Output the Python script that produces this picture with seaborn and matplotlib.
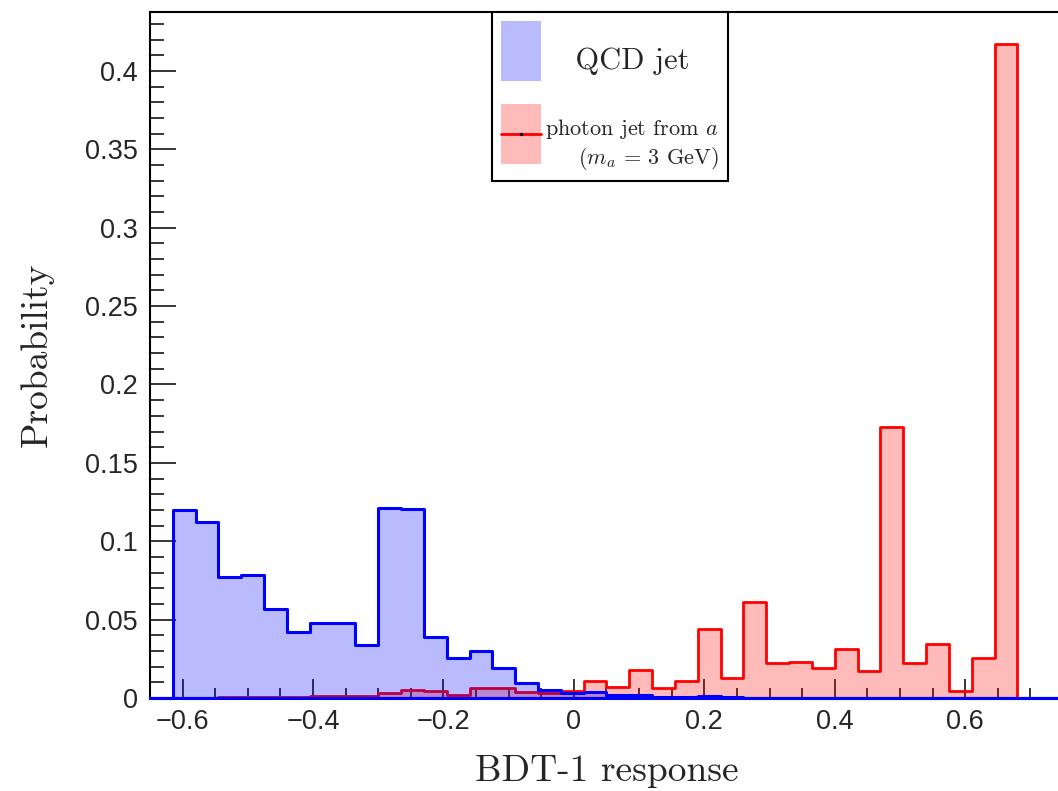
import numpy as np
import pandas as pd
import matplotlib
matplotlib.use("Agg")
import matplotlib.pyplot as plt
import seaborn as sns
from matplotlib.patches import Patch
from matplotlib.lines import Line2D
from matplotlib.legend_handler import HandlerLine2D
from matplotlib.ticker import MultipleLocator, FuncFormatter

# ---------------- data (probability per bin, 40 bins from -0.65 to 0.75) ----------------
bin_range = (-0.65, 0.75)
n_bins = 40

qcd_prob = [0.0, 0.120, 0.112, 0.077, 0.0785, 0.0566, 0.0421, 0.0476, 0.048, 0.034,
            0.121, 0.1205, 0.0387, 0.0255, 0.0302, 0.0191, 0.0094, 0.0051, 0.003, 0.0036,
            0.0017, 0.002, 0.0005, 0.0005, 0.0013, 0.0004, 0.0003, 0.0, 0.0, 0.0,
            0.0, 0.0, 0.0, 0.0, 0.0, 0.0, 0.0, 0.0, 0.0, 0.0]

photon_prob = [0.0, 0.0, 0.0003, 0.0005, 0.0008, 0.0008, 0.0008, 0.001, 0.0013, 0.0014,
               0.0034, 0.005, 0.0043, 0.0021, 0.0062, 0.0062, 0.004, 0.003, 0.0045, 0.011,
               0.0072, 0.0179, 0.0064, 0.0106, 0.0438, 0.013, 0.0615, 0.0221, 0.0228, 0.0194,
               0.031, 0.0172, 0.173, 0.0221, 0.0342, 0.0047, 0.0253, 0.417, 0.0, 0.0]

x_ticks = [-0.6, -0.4, -0.2, 0, 0.2, 0.4, 0.6]
y_ticks = [0, 0.05, 0.1, 0.15, 0.2, 0.25, 0.3, 0.35, 0.4]

qcd_label = "   QCD jet"
photon_label = "photon jet from $a$\n($m_a$ = 3 GeV)"
x_label = "BDT-1 response"
y_label = "Probability"

# ---------------- styling ----------------
sns.set_style("ticks")
plt.rcParams["font.family"] = ["Liberation Sans", "DejaVu Sans"]
plt.rcParams["mathtext.fontset"] = "cm"

blue_line = (0.0, 0.0, 1.0)
blue_fill = (0.0, 0.0, 1.0, 0.27)
red_line = (1.0, 0.0, 0.0)
red_fill = (1.0, 0.0, 0.0, 0.27)

edges = np.linspace(bin_range[0], bin_range[1], n_bins + 1)
centers = 0.5 * (edges[:-1] + edges[1:])
df = pd.DataFrame({"response": centers, "qcd": qcd_prob, "photon": photon_prob})

fig = plt.figure(figsize=(10.58, 7.91), dpi=100)
ax = fig.add_axes([150 / 1058, 93 / 791, 913 / 1058, 686 / 791])

sns.histplot(data=df, x="response", weights="photon", bins=n_bins, binrange=bin_range,
             element="step", fill=True, facecolor=red_fill, edgecolor=red_line,
             linewidth=2.0, ax=ax)
sns.histplot(data=df, x="response", weights="qcd", bins=n_bins, binrange=bin_range,
             element="step", fill=True, facecolor=blue_fill, edgecolor=blue_line,
             linewidth=2.2, ax=ax)
for i, coll in enumerate(ax.collections):
    coll.set_zorder(2.6 + 0.01 * i)
    coll.set_clip_on(False)

ax.set_xlim(-0.65, 0.75)
ax.set_ylim(0, 0.4376)

ax.xaxis.set_major_locator(MultipleLocator(0.2))
ax.xaxis.set_minor_locator(MultipleLocator(0.05))
ax.yaxis.set_major_locator(MultipleLocator(0.05))
ax.yaxis.set_minor_locator(MultipleLocator(0.01))
fmt = FuncFormatter(lambda v, p: ("%g" % round(v, 4)).replace("-", "\u2212"))
ax.xaxis.set_major_formatter(fmt)
ax.yaxis.set_major_formatter(fmt)

ax.tick_params(axis="both", which="both", direction="in", top=False, right=False,
               color="black", width=1.1)
ax.tick_params(axis="x", which="major", length=14, pad=8, labelsize=19.5)
ax.tick_params(axis="x", which="minor", length=7)
ax.tick_params(axis="y", which="major", length=19, pad=9, labelsize=19.5)
ax.tick_params(axis="y", which="minor", length=10)

for s in ax.spines.values():
    s.set_color("black")
    s.set_linewidth(1.5)
ax.spines["right"].set_visible(False)

ax.set_xlabel(x_label, fontfamily="cmr10", fontsize=27, labelpad=14)
ax.set_ylabel(y_label, fontfamily="cmr10", fontsize=27, labelpad=22)


# ---------------- legend ----------------
class CenteredLine(HandlerLine2D):
    """Line2D legend handler that puts the line in the vertical middle of the patch box."""
    def create_artists(self, legend, orig_handle, xdescent, ydescent, width, height,
                       fontsize, trans):
        artists = super().create_artists(legend, orig_handle, xdescent, ydescent,
                                         width, height, fontsize, trans)
        y_mid = height / 2.0 - ydescent
        for a in artists:
            a.set_ydata(np.full_like(np.asarray(a.get_xdata(), dtype=float), y_mid))
        return artists


# legend "fontsize" only sets the paddings / handle box (in pixels below);
# the label texts get their own sizes afterwards.
f_px = 53.9
f_pt = f_px * 72 / 100
handles = [Patch(facecolor=blue_fill, edgecolor="none"),
           (Patch(facecolor=red_fill, edgecolor="none"),
            Line2D([], [], color=red_line, lw=2.0, marker="o", markersize=1.5,
                   markerfacecolor="black", markeredgecolor="black"))]
leg = ax.legend(handles, [qcd_label, photon_label], loc="upper left",
                bbox_to_anchor=(0.3746, 1.0), borderaxespad=0.0,
                prop={"family": "cmr10", "size": f_pt},
                handler_map={Line2D: CenteredLine()},
                handlelength=40 / f_px, handleheight=72 / f_px,
                handletextpad=4 / f_px, labelspacing=23 / f_px, borderpad=9 / f_px,
                frameon=True, fancybox=False, framealpha=1.0, edgecolor="black")
leg.get_frame().set_linewidth(1.5)
leg.set_zorder(5)
texts = leg.get_texts()
texts[0].set_fontsize(22)
texts[1].set_fontsize(16)
texts[1].set_multialignment("right")

fig.savefig("out.png", dpi=100)
